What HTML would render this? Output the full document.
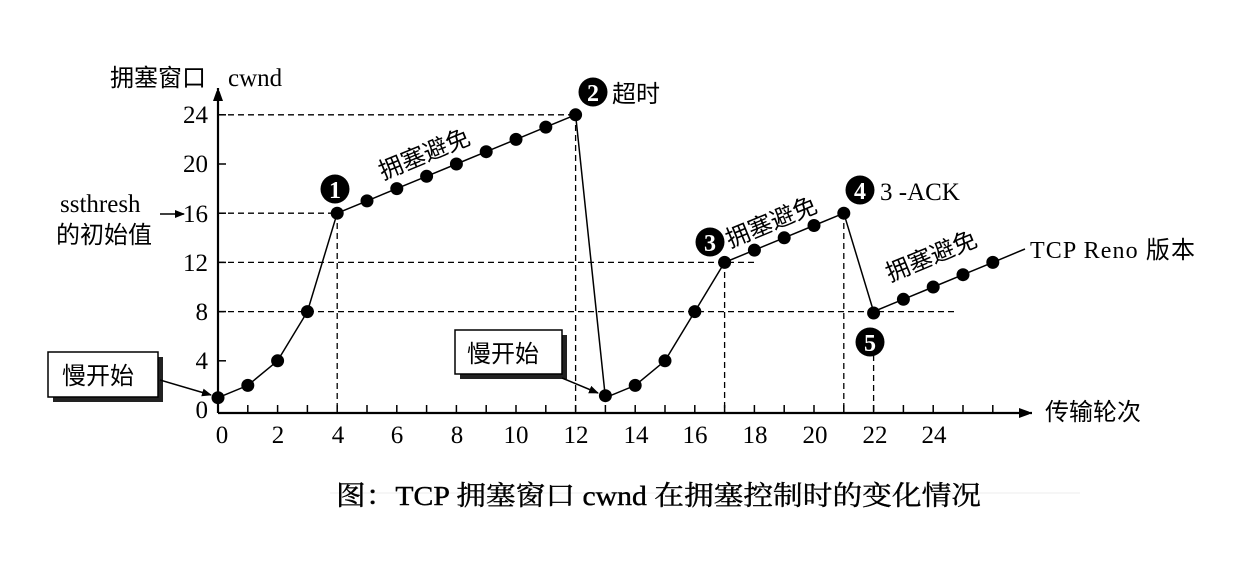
<!DOCTYPE html>
<html><head><meta charset="utf-8"><style>
body{margin:0;background:#fff}
svg{display:block}
text{font-family:"Liberation Serif","Noto Serif CJK SC",serif;fill:#000}
.cj{font-family:"Liberation Sans","Noto Sans CJK SC",sans-serif}
</style></head><body>
<svg width="1234" height="573" viewBox="0 0 1234 573">
<defs><marker id="ar" markerWidth="10" markerHeight="8" refX="9" refY="4" orient="auto" markerUnits="userSpaceOnUse"><path d="M0,0 L10,4 L0,8 z" fill="#000"/></marker>
<marker id="ar2" markerWidth="10" markerHeight="14" refX="13" refY="5" orient="auto" markerUnits="userSpaceOnUse"><path d="M0,0 L14,5 L0,10 z" fill="#000"/></marker></defs>
<g stroke="#000" stroke-width="1.3" stroke-dasharray="6,4" fill="none">
<line x1="218" y1="114.8" x2="576" y2="114.8"/>
<line x1="218" y1="213.2" x2="337" y2="213.2"/>
<line x1="218" y1="262.4" x2="758" y2="262.4"/>
<line x1="218" y1="311.6" x2="955" y2="311.6"/>
<line x1="337.2" y1="213" x2="337.2" y2="413"/>
<line x1="575.6" y1="115" x2="575.6" y2="413"/>
<line x1="724.6" y1="262" x2="724.6" y2="413"/>
<line x1="843.8" y1="213" x2="843.8" y2="413"/>
<line x1="873.6" y1="355" x2="873.6" y2="413"/>
</g>
<g stroke="#000" stroke-width="2.2" fill="none">
<line x1="218" y1="413" x2="218" y2="88" marker-end="url(#ar2)"/>
<line x1="218" y1="413" x2="1032" y2="413" marker-end="url(#ar2)"/>
</g>
<g stroke="#000" stroke-width="1.5">
<line x1="218" y1="114.8" x2="226" y2="114.8"/><line x1="218" y1="164" x2="226" y2="164"/><line x1="218" y1="213.2" x2="226" y2="213.2"/><line x1="218" y1="262.4" x2="226" y2="262.4"/><line x1="218" y1="311.6" x2="226" y2="311.6"/><line x1="218" y1="360.8" x2="226" y2="360.8"/>
<path d="M247.8,413v-8M277.6,413v-8M307.4,413v-8M337.2,413v-8M367,413v-8M396.8,413v-8M426.6,413v-8M456.4,413v-8M486.2,413v-8M516,413v-8M545.8,413v-8M575.6,413v-8M605.4,413v-8M635.2,413v-8M665,413v-8M694.8,413v-8M724.6,413v-8M754.4,413v-8M784.2,413v-8M814,413v-8M843.8,413v-8M873.6,413v-8M903.4,413v-8M933.2,413v-8M963,413v-8M992.8,413v-8"/>
</g>
<polyline fill="none" stroke="#000" stroke-width="1.5" points="218,397.7 247.8,385.4 277.6,360.8 307.4,311.6 337.2,213.2 367,200.9 396.8,188.6 426.6,176.3 456.4,164 486.2,151.7 516,139.4 545.8,127.1 575.6,114.8 605.4,397.7 635.2,385.4 665,360.8 694.8,311.6 724.6,262.4 754.4,250.1 784.2,237.8 814,225.5 843.8,213.2 873.6,311.6 903.4,299.3 933.2,287 963,274.7 992.8,262.4 1025,249"/>
<g fill="#000">
<circle cx="218" cy="397.7" r="6.5"/><circle cx="247.8" cy="385.4" r="6.5"/><circle cx="277.6" cy="360.8" r="6.5"/><circle cx="307.4" cy="311.6" r="6.5"/><circle cx="337.2" cy="213.2" r="6.5"/><circle cx="367" cy="200.9" r="6.5"/><circle cx="396.8" cy="188.6" r="6.5"/><circle cx="426.6" cy="176.3" r="6.5"/><circle cx="456.4" cy="164" r="6.5"/><circle cx="486.2" cy="151.7" r="6.5"/><circle cx="516" cy="139.4" r="6.5"/><circle cx="545.8" cy="127.1" r="6.5"/><circle cx="575.6" cy="114.8" r="6.5"/><circle cx="605.4" cy="395.7" r="6.5"/><circle cx="635.2" cy="385.4" r="6.5"/><circle cx="665" cy="360.8" r="6.5"/><circle cx="694.8" cy="311.6" r="6.5"/><circle cx="724.6" cy="262.4" r="6.5"/><circle cx="754.4" cy="250.1" r="6.5"/><circle cx="784.2" cy="237.8" r="6.5"/><circle cx="814" cy="225.5" r="6.5"/><circle cx="843.8" cy="213.2" r="6.5"/><circle cx="873.6" cy="313" r="6.5"/><circle cx="903.4" cy="299.3" r="6.5"/><circle cx="933.2" cy="287" r="6.5"/><circle cx="963" cy="274.7" r="6.5"/><circle cx="992.8" cy="262.4" r="6.5"/>
<circle cx="335" cy="189" r="14.5"/><circle cx="593" cy="92" r="14.5"/><circle cx="710" cy="242" r="14.5"/><circle cx="860" cy="190" r="14.5"/><circle cx="870" cy="342" r="14.5"/>
</g>
<g font-size="24" font-weight="bold" text-anchor="middle">
<text x="335" y="198" style="fill:#fff">1</text><text x="593" y="101" style="fill:#fff">2</text><text x="710" y="251" style="fill:#fff">3</text><text x="860" y="199" style="fill:#fff">4</text><text x="870" y="351" style="fill:#fff">5</text>
</g>
<g font-size="25" text-anchor="end">
<text x="208" y="123">24</text><text x="208" y="172">20</text><text x="208" y="222">16</text><text x="208" y="271">12</text><text x="208" y="320">8</text><text x="208" y="369">4</text><text x="208" y="418">0</text>
</g>
<g font-size="25" text-anchor="middle">
<text x="222" y="443">0</text><text x="278" y="443">2</text><text x="338" y="443">4</text><text x="397" y="443">6</text><text x="457" y="443">8</text><text x="516" y="443">10</text><text x="576" y="443">12</text><text x="636" y="443">14</text><text x="695" y="443">16</text><text x="755" y="443">18</text><text x="815" y="443">20</text><text x="875" y="443">22</text><text x="934" y="443">24</text>
</g>
<text class="cj" x="110" y="86" font-size="24">拥塞窗口</text>
<text x="228" y="86" font-size="25">cwnd</text>
<text x="612" y="102" class="cj" font-size="24">超时</text>
<text x="880" y="200" font-size="25">3 -ACK</text>
<text x="1030" y="258" font-size="24" textLength="165">TCP Reno <tspan class="cj">版本</tspan></text>
<text x="60" y="212" font-size="25">ssthresh</text>
<text x="56" y="243" class="cj" font-size="24">的初始值</text>
<line x1="160" y1="214" x2="184" y2="214" stroke="#000" stroke-width="1.5" marker-end="url(#ar)"/>
<text class="cj" x="1045" y="420" font-size="24">传输轮次</text>
<text class="cj" font-size="24" transform="translate(383,180) rotate(-22.4)">拥塞避免</text>
<text class="cj" font-size="24" transform="translate(730,248) rotate(-22.4)">拥塞避免</text>
<text class="cj" font-size="24" transform="translate(890,282) rotate(-22.4)">拥塞避免</text>
<rect x="53" y="357" width="110" height="45" fill="#222"/>
<rect x="48" y="352" width="110" height="45" fill="#fff" stroke="#000" stroke-width="1.5"/>
<text class="cj" x="62" y="384" font-size="24">慢开始</text>
<line x1="160" y1="380" x2="211" y2="395" stroke="#000" stroke-width="1.5" marker-end="url(#ar)"/>
<rect x="460" y="335" width="107" height="44" fill="#222"/>
<rect x="455" y="330" width="107" height="44" fill="#fff" stroke="#000" stroke-width="1.5"/>
<text class="cj" x="467" y="362" font-size="24">慢开始</text>
<line x1="562" y1="378" x2="598" y2="393" stroke="#000" stroke-width="1.5" marker-end="url(#ar)"/>
<line x1="330" y1="493" x2="1080" y2="493" stroke="#eee" stroke-width="1"/>
<text x="336" y="505" font-size="27" textLength="645" lengthAdjust="spacingAndGlyphs" stroke="#000" stroke-width="0.4">图：TCP 拥塞窗口 cwnd 在拥塞控制时的变化情况</text>
</svg>
</body></html>
